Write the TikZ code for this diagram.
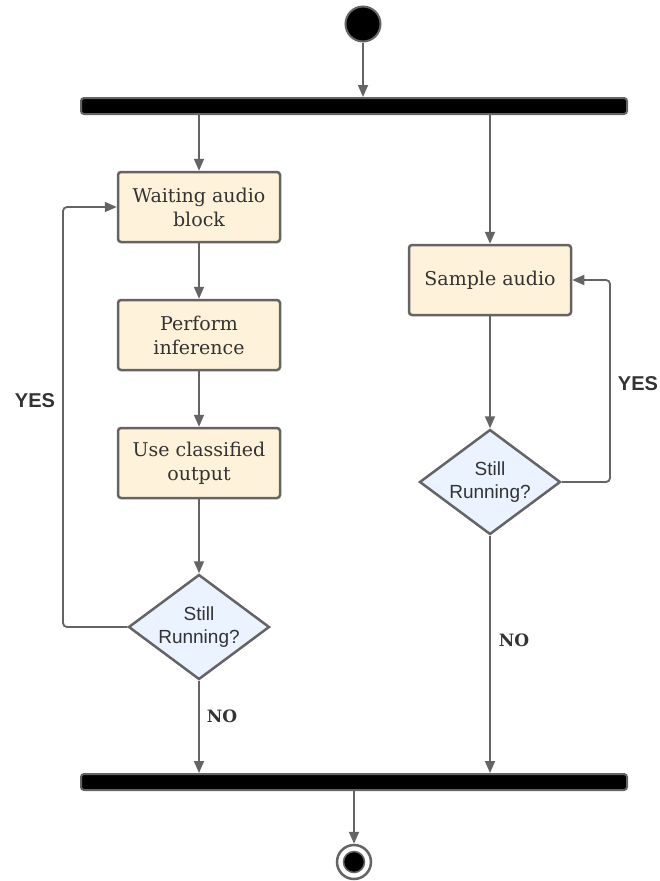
\documentclass[tikz,border=0pt]{standalone}
\usepackage{fontspec}
\setmainfont{DejaVu Serif}
\newfontfamily\labelsans{Liberation Sans}
\usetikzlibrary{shapes.geometric,arrows.meta}

\definecolor{linegray}{HTML}{646464}
\definecolor{boxfill}{HTML}{FEF2DA}
\definecolor{choicefill}{HTML}{EAF3FF}
\definecolor{txt}{HTML}{333333}

\tikzset{
  act/.style={rectangle, rounded corners=3pt, draw=linegray, line width=2.5pt, fill=boxfill,
    minimum width=162pt, minimum height=70pt, align=center, text=txt,
    font=\fontsize{19}{24}\selectfont},
  choice/.style={diamond, aspect=1.34, draw=linegray, line width=2.5pt, fill=choicefill,
    minimum width=141pt, minimum height=105pt, inner sep=0pt, align=center, text=txt,
    font=\labelsans\fontsize{19}{23}\selectfont},
  bar/.style={rectangle, rounded corners=3pt, fill=black, draw=linegray, line width=2pt,
    minimum width=546pt, minimum height=16pt, inner sep=0pt},
  flow/.style={draw=linegray, line width=1.8pt, -{Triangle[length=12pt,width=10pt]}},
  yesno/.style={text=txt, font=\labelsans\bfseries\fontsize{20}{20}\selectfont},
  nolabel/.style={text=txt, font=\bfseries\fontsize{17}{17}\selectfont}
}

\begin{document}
\begin{tikzpicture}[x=1pt,y=-1pt]
  \useasboundingbox (0,0) rectangle (660,881);

  % start and fork
  \node[circle, fill=black, draw=linegray, line width=2pt, minimum size=35pt, inner sep=0pt] (start) at (363,24) {};
  \node[bar] (fork) at (354,106) {};

  % left branch
  \node[act] (wait) at (199,207) {Waiting audio\\block};
  \node[act] (infer) at (199,335) {Perform\\inference};
  \node[act] (use) at (199,463) {Use classified\\output};
  \node[choice] (leftq) at (199,627) {Still\\Running?};

  % right branch
  \node[act] (sample) at (490,280) {Sample audio};
  \node[choice] (rightq) at (490,482) {Still\\Running?};

  % join and end
  \node[bar] (join) at (354,782) {};
  \node[circle, fill=white, draw=linegray, line width=2.5pt, minimum size=34pt, inner sep=0pt] (finish) at (354,862) {};
  \node[circle, fill=black, draw=linegray, line width=1.5pt, minimum size=21pt, inner sep=0pt] (finishdot) at (finish) {};

  \coordinate (lloop) at (63,0);
  \coordinate (rloop) at (610,0);

  % the arrows
  \draw[flow] (start) -- (start |- fork.north);
  \draw[flow] (fork.south -| wait) -- (wait);
  \draw[flow] (wait) -- (infer);
  \draw[flow] (infer) -- (use);
  \draw[flow] (use) -- (leftq);
  \draw[flow, rounded corners=4pt] (leftq.west) -- (leftq.west -| lloop) |- (wait.west);
  \draw[flow] (leftq) -- (leftq |- join.north);
  \draw[flow] (fork.south -| sample) -- (sample);
  \draw[flow] (sample) -- (rightq);
  \draw[flow, rounded corners=4pt] (rightq.east) -- (rightq.east -| rloop) |- (sample.east);
  \draw[flow] (rightq) -- (rightq |- join.north);
  \draw[flow] (join.south -| finish) -- (finish);

  % labels
  \node[yesno] (yesl) at (35,401) {YES};
  \node[yesno] (yesr) at (638,384) {YES};
  \node[nolabel] (nol) at (222,716) {NO};
  \node[nolabel] (nor) at (514,640) {NO};
\end{tikzpicture}
\end{document}
